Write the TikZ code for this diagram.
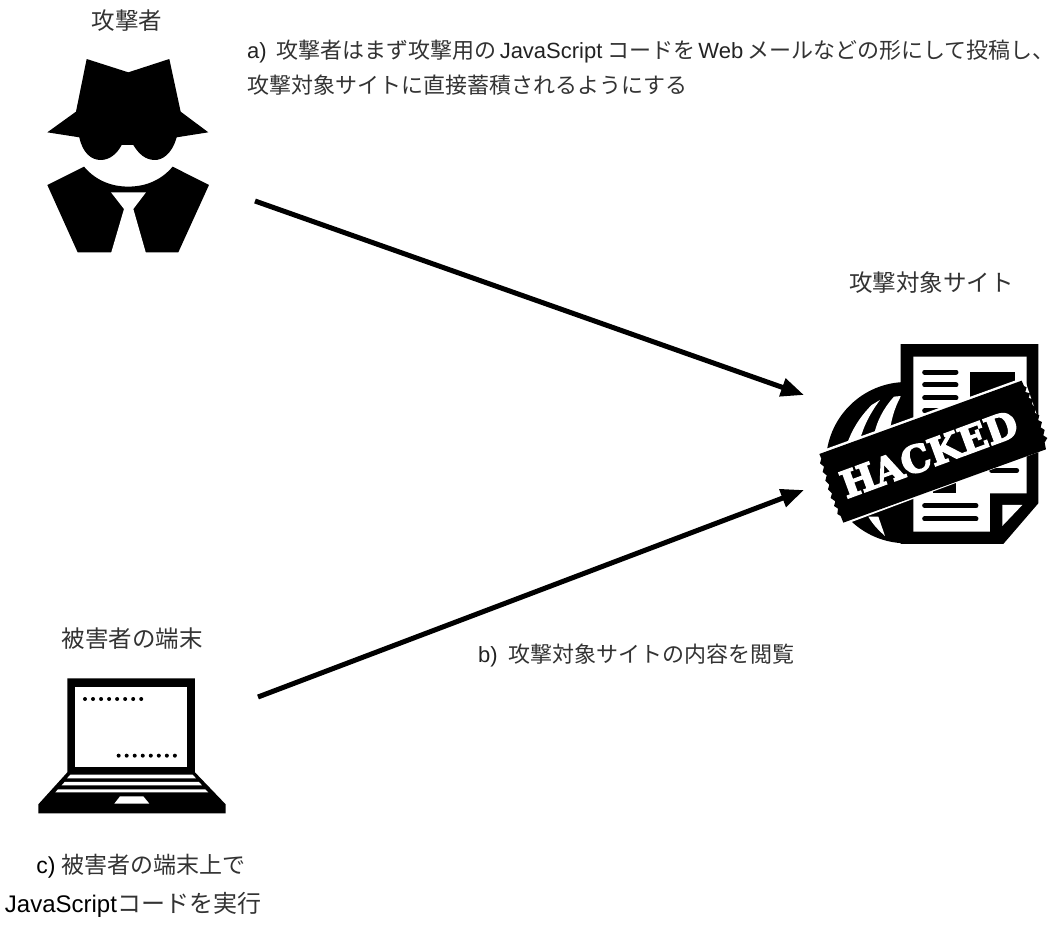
\documentclass[tikz,border=0pt]{standalone}
\usepackage{fontspec}
\setmainfont{Liberation Sans}
\newfontfamily\jpf{Noto Sans CJK JP}
\newcommand{\jp}[1]{{\jpf\color{jptxt} #1}}
\newfontfamily\slab[FakeBold=4]{DejaVu Serif Bold}
\usetikzlibrary{arrows.meta}
\definecolor{grtxt}{HTML}{222222}
\definecolor{jptxt}{HTML}{333333}
\tikzset{
  label text/.style={font=\fontsize{23.5}{26}\selectfont,text=black,inner sep=0pt},
  note text/.style={font=\fontsize{22}{26}\selectfont,text=grtxt,inner sep=0pt},
  flow/.style={line width=5pt,draw=black,-{Triangle[length=23pt,width=18pt]}},
  cut/.style={fill=white,draw=none},
  ink/.style={fill=black,draw=none},
  bar/.style={line width=5pt,line cap=round,draw=black},
}
\begin{document}
\begin{tikzpicture}[x=1pt,y=-1pt]
\useasboundingbox (0,0) rectangle (1061,932);
% attacker icon
\begin{scope}[shift={(30,40)},scale=0.3333]
\fill[ink] (170,57) -- (295,97) -- (418,57) -- (452,215) -- (535,277) -- (440,292)
  .. controls (425,345) and (395,360) .. (375,360) .. controls (345,360) and (325,340) .. (310,315)
  -- (275,315) .. controls (262,340) and (240,360) .. (212,360) .. controls (185,360) and (158,340) .. (148,292)
  -- (52,277) -- (138,215) -- cycle;
\fill[ink] (52,435) -- (162,380) .. controls (200,425) and (250,440) .. (295,440)
  .. controls (340,440) and (390,425) .. (428,380) -- (537,435) -- (445,637) -- (143,637) -- cycle;
\fill[cut] (243,457) -- (348,457) -- (310,507) -- (348,640) -- (243,640) -- (282,507) -- cycle;
\end{scope}
% victim laptop icon
\begin{scope}[shift={(25,665)},scale=0.3333]
\fill[ink] (127,40) -- (510,40) -- (510,322) -- (602,418) -- (602,445) -- (40,445) -- (40,418) -- (127,322) -- cycle;
\fill[cut] (150,65) rectangle (487,305);
\fill[cut] (136,329) -- (503,329) -- (513,340) -- (126,340) -- cycle;
\fill[cut] (119,351) -- (522,351) -- (531,361) -- (110,361) -- cycle;
\fill[cut] (99,373) -- (541,373) -- (550,382) -- (91,382) -- cycle;
\fill[cut] (285,394) -- (355,394) -- (373,416) -- (268,416) -- cycle;
\foreach \i in {0,...,7} {
  \fill[ink] (180+24.1*\i,102) circle (6);
  \fill[ink] (281+24.1*\i,272) circle (6);
}
\end{scope}
% hacked site icon
\begin{scope}[shift={(800,330)},scale=0.3333]
\fill[ink] (320,398) circle (242);
\fill[cut] (215,225) .. controls (180,260) and (155,300) .. (140,345) -- (180,330) .. controls (190,290) and (210,250) .. (240,210) -- cycle;
\fill[cut] (282,200) .. controls (250,235) and (230,275) .. (222,315) -- (270,298) .. controls (275,265) and (285,230) .. (303,198) -- cycle;
\fill[cut] (205,560) .. controls (220,585) and (235,600) .. (255,618) -- (235,560) -- cycle;
\fill[ink] (302,42) -- (715,42) -- (715,520) -- (610,642) -- (302,642) -- cycle;
\fill[cut] (340,80) -- (680,80) -- (680,490) -- (570,490) -- (570,605) -- (340,605) -- cycle;
\fill[cut] (607,525) -- (667,525) -- (607,588) -- cycle;
\fill[ink] (510,125) rectangle (645,240);
\foreach \y in {126,165,204,243} \draw[bar] (374,\y) -- (468,\y);
\foreach \y in {527,567} \draw[bar] (374,\y) -- (528,\y);
\draw[bar] (575,422) -- (650,422);
\fill[ink] (400,440) rectangle (467,490);
% band
\fill[cut] (52,366) -- (672,142) -- (745,355) -- (128,586) -- cycle;
\fill[ink] (58,372) -- (665,152)
 -- (672,168) -- (680,172) -- (676,186) -- (690,190) -- (686,204) -- (700,208) -- (696,222) -- (708,236)
 -- (704,248) -- (718,256) -- (714,270) -- (726,276) -- (722,292) -- (734,300) -- (730,316) -- (742,324) -- (734,338) -- (738,358)
 -- (130,578) -- (122,558) -- (112,552) -- (114,536) -- (102,528) -- (106,514) -- (92,504) -- (96,490) -- (84,478) -- (88,464) -- (76,452) -- (80,436) -- (68,426) -- (72,410) -- (60,400) -- (64,386) -- cycle;
\end{scope}
\node[text=white,inner sep=0pt,rotate=20.2,font=\slab\fontsize{37}{37}\selectfont] (hackedtext) at (929,454) {HACKED};
% labels
\node[label text] (attacker) at (127,21) {\jp{攻撃者}};
\node[label text] (site) at (931.5,283) {\jp{攻撃対象サイト}};
\node[label text] (victim) at (132,639) {\jp{被害者の端末}};
\node[note text,anchor=west] (notea1) at (247,52) {a)\hspace{10pt}\jp{攻撃者はまず攻撃用の}\hspace{3pt}JavaScript\hspace{5pt}\jp{コードを}\hspace{3pt}Web\hspace{4pt}\jp{メールなどの形にして投稿し、}};
\node[note text,anchor=west] (notea2) at (247,85) {\jp{攻撃対象サイトに直接蓄積されるようにする}};
\node[note text,anchor=west] (noteb) at (478,655) {b)\hspace{11pt}\jp{攻撃対象サイトの内容を閲覧}};
\node[label text,font=\fontsize{23}{26}\selectfont] (notec1) at (141,866) {c)\hspace{6pt}\jp{被害者の端末上で}};
\node[label text,font=\fontsize{24}{26}\selectfont] (notec2) at (133,905) {JavaScript\jp{コードを実行}};
% connectors
\coordinate (attackerOut) at (255,201);
\coordinate (siteInA) at (804,395);
\coordinate (victimOut) at (258,697);
\coordinate (siteInB) at (804,490);
\draw[flow] (attackerOut) -- (siteInA);
\draw[flow] (victimOut) -- (siteInB);
\end{tikzpicture}
\end{document}
